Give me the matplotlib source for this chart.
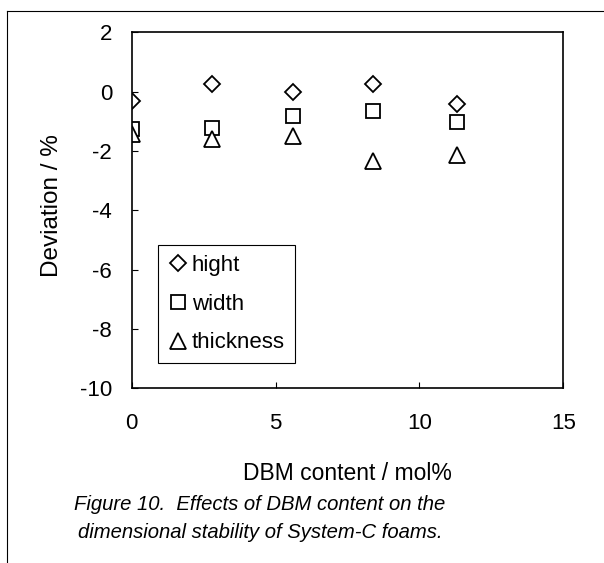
import matplotlib

matplotlib.use("Agg")
import matplotlib.pyplot as plt
from matplotlib.lines import Line2D

plt.rcParams["font.family"] = ["Liberation Sans", "DejaVu Sans"]
plt.rcParams["axes.unicode_minus"] = False

# DBM content (mol%) and dimensional deviation (%)
dbm = [0, 2.8, 5.6, 8.4, 11.3]
hight = [-0.30, 0.25, 0.0, 0.25, -0.41]
width = [-1.25, -1.22, -0.83, -0.64, -1.03]
thickness = [-1.43, -1.61, -1.49, -2.34, -2.12]

x_ticks = [0, 5, 10, 15]
y_ticks = [-10, -8, -6, -4, -2, 0, 2]

fig = plt.figure(figsize=(6.04, 5.63), dpi=100)
ax = fig.add_axes([0.218, 0.3103, 0.7146, 0.6323])

style = dict(ls="none", mfc="white", mec="black", mew=1.3)
ax.plot(dbm, hight, marker="D", ms=8, label="hight", **style)
ax.plot(dbm, width, marker="s", ms=10, label="width", **style)
ax.plot(dbm, thickness, marker="^", ms=11, label="thickness", **style)

ax.set_xlim(0, 15)
ax.set_ylim(-10, 2)
ax.set_xticks(x_ticks)
ax.set_yticks(y_ticks)
ax.tick_params(direction="in", length=4, width=0.8, labelsize=16, colors="black")
ax.tick_params(axis="x", pad=18)
ax.tick_params(axis="y", pad=14)
for sp in ax.spines.values():
    sp.set_linewidth(1.2)

ax.set_xlabel("DBM content / mol%", fontsize=16.5, labelpad=20)
ax.set_ylabel("Deviation / %", fontsize=17.5)
ax.yaxis.set_label_coords(-0.158, 0.513)

leg = ax.legend(loc="lower left", bbox_to_anchor=(0.062, 0.07), borderaxespad=0,
                fontsize=16, numpoints=1, handlelength=0.85, handletextpad=0.2,
                borderpad=0.45, labelspacing=0.8, fancybox=False, framealpha=1)
leg.get_frame().set_edgecolor("black")
leg.get_frame().set_linewidth(0.8)

fig.text(260 / 604, 1 - 505 / 563, "Figure 10.  Effects of DBM content on the",
         ha="center", va="center", style="italic", fontsize=14.6)
fig.text(260 / 604, 1 - 533 / 563, "dimensional stability of System-C foams.",
         ha="center", va="center", style="italic", fontsize=14.6)

# outer frame (left and top edges only are visible)
x0, y0 = 7 / 604, 1 - 10.7 / 563
fig.add_artist(Line2D([x0, x0], [0, y0], color="black", lw=0.8, transform=fig.transFigure))
fig.add_artist(Line2D([x0, 1], [y0, y0], color="black", lw=0.8, transform=fig.transFigure))

fig.savefig("out.png", dpi=100)
